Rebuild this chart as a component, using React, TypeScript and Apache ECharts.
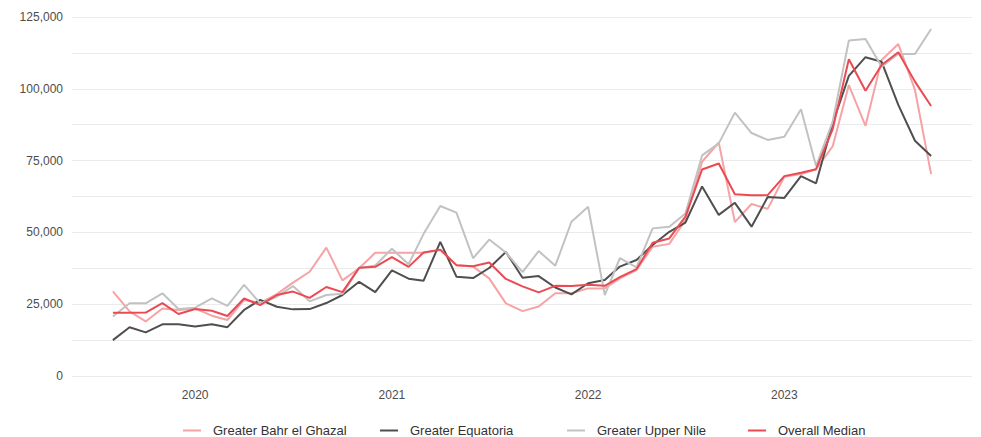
import React, { useEffect, useRef } from "react";
import * as echarts from "echarts";

// Monthly observations, Aug 2019 – Oct 2023
const startYear = 2019;
const startMonth = 8; // August
const monthCount = 51;

const bahrElGhazal = [
  29500, 22500, 19000, 23500, 23000, 23500, 21000, 19500, 26500, 25500, 28500, 32500,
  36300, 44700, 33300, 37500, 42900, 42900, 42900, 42900, 43900, 38600, 38100, 34000,
  25300, 22600, 24200, 28800, 28800, 30500, 30500, 34000, 36900, 45000, 46000, 54300,
  74600, 81300, 53600, 59900, 58200, 69400, 70300, 72000, 80000, 101300, 87100, 110000,
  115600, 99600, 70300,
];
const equatoria = [
  12500, 17000, 15200, 18000, 18000, 17200, 18000, 17000, 23000, 26500, 24100, 23200,
  23300, 25400, 28200, 32800, 29200, 36800, 33900, 33200, 46700, 34600, 34100, 37600,
  43200, 34200, 34800, 30800, 28400, 32300, 33400, 38100, 40400, 45600, 50200, 53400,
  66000, 56100, 60300, 52000, 62300, 62000, 69600, 67100, 88000, 104500, 111000, 109400,
  94400, 81900, 76600,
];
const upperNile = [
  20700, 25300, 25300, 28800, 23300, 23800, 27000, 24400, 31700, 25300, 27600, 31300,
  26000, 28200, 28600, 37500, 38500, 44300, 38900, 49500, 59200, 56900, 41000, 47500,
  43000, 36200, 43500, 38400, 53700, 58900, 28200, 41000, 37800, 51400, 52000, 56600,
  76800, 81000, 91700, 84600, 82200, 83300, 92900, 73100, 88600, 116800, 117300, 107700,
  112100, 112100, 120800,
];
const overallMedian = [
  22000, 22000, 22100, 25400, 21600, 23300, 22700, 20900, 27000, 24700, 28200, 29400,
  27200, 31000, 29200, 37700, 38000, 41400, 38000, 43000, 44000, 38600, 38200, 39500,
  33800, 31200, 29100, 31400, 31300, 31800, 31400, 34400, 37200, 46400, 47900, 55500,
  71900, 74000, 63300, 62900, 63000, 69600, 70800, 72000, 86000, 110300, 99300, 108300,
  112700, 102500, 94000,
];

const seriesNames = [
  "Greater Bahr el Ghazal",
  "Greater Equatoria",
  "Greater Upper Nile",
  "Overall Median",
];
const seriesColors = ["#f5a3a5", "#4f4f4f", "#c2c2c2", "#ea4b53"];
const yTicks = [0, 25000, 50000, 75000, 100000, 125000];
const legendLefts = [183, 380, 567, 748];

const months: number[] = [];
for (let i = 0; i < monthCount; i++) {
  months.push(new Date(startYear, startMonth - 1 + i, 1).getTime());
}

export default function App() {
  const ref = useRef<HTMLDivElement>(null);
  useEffect(() => {
    if (!ref.current) return;
    const chart = echarts.init(ref.current, undefined, { renderer: "svg" });
    const first = months[0];
    const last = months[months.length - 1];
    const pad = (last - first) * 0.05;
    const font = "Liberation Sans, Arial, Helvetica, sans-serif";
    const all = [bahrElGhazal, equatoria, upperNile, overallMedian];
    chart.setOption({
      animation: false,
      textStyle: { fontFamily: font },
      grid: { left: 72, right: 9, top: 17, bottom: 61, containLabel: false },
      legend: seriesNames.map((name, k) => ({
        top: 424,
        left: legendLefts[k],
        padding: 0,
        icon: "rect",
        itemWidth: 18,
        itemHeight: 2,
        textStyle: { color: "#333", fontSize: 13, padding: [0, 0, 0, 7], fontFamily: font },
        data: [name],
      })),
      xAxis: {
        type: "time",
        min: first - pad,
        max: last + pad,
        minInterval: 365 * 86400000,
        axisLine: { show: false },
        axisTick: { show: false },
        splitLine: { show: false },
        axisLabel: {
          color: "#4d4d4d",
          fontSize: 12,
          margin: 13,
          showMinLabel: false,
          showMaxLabel: false,
          formatter: (v: number) => {
            const d = new Date(v);
            return d.getMonth() === 0 && d.getDate() === 1 ? String(d.getFullYear()) : "";
          },
        },
      },
      yAxis: {
        type: "value",
        min: yTicks[0],
        max: yTicks[yTicks.length - 1],
        interval: yTicks[1] - yTicks[0],
        axisLine: { show: false },
        axisTick: { show: false },
        axisLabel: {
          color: "#4d4d4d",
          fontSize: 12,
          margin: 9,
          formatter: (v: number) => v.toLocaleString("en-US"),
        },
        splitLine: { show: true, lineStyle: { color: "#ebebeb", width: 1 } },
        minorTick: { show: false, splitNumber: 2 },
        minorSplitLine: { show: true, lineStyle: { color: "#ebebeb", width: 1 } },
      },
      series: seriesNames.map((name, k) => ({
        name,
        type: "line",
        showSymbol: false,
        symbol: "none",
        color: seriesColors[k],
        lineStyle: { width: 2, color: seriesColors[k] },
        data: months.map((t, i) => [t, all[k][i]]),
      })),
    });
    return () => chart.dispose();
  }, []);
  return (
    <div
      ref={ref}
      style={{ position: "absolute", left: 0, top: 0, width: 981, height: 437 }}
    />
  );
}
